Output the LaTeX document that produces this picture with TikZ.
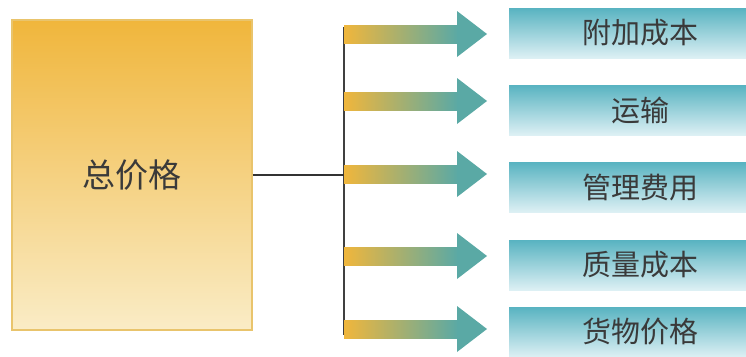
\documentclass[tikz,border=0pt]{standalone}
\usepackage{fontspec}
\newfontfamily\cjk{Noto Sans CJK SC}
\usetikzlibrary{positioning}
\definecolor{gold}{HTML}{F0B63C}
\definecolor{cream}{HTML}{FAECC6}
\definecolor{goldline}{HTML}{E9C46C}
\definecolor{tealtop}{HTML}{58B3C1}
\definecolor{tealbot}{HTML}{DDF0F4}
\definecolor{arrowteal}{HTML}{5AA9A5}
\definecolor{olive}{HTML}{A9AE7C}
\definecolor{textgray}{HTML}{3A3A3A}
\tikzset{
  totalbox/.style={rectangle, draw=goldline, line width=1.2pt, top color=gold, bottom color=cream,
    minimum width=240pt, minimum height=310pt, inner sep=0pt, text=textgray,
    font=\cjk\fontsize{33}{33}\selectfont},
  itembox/.style={rectangle, top color=tealtop, bottom color=tealbot,
    minimum width=262pt, minimum height=50pt, inner sep=0pt, text=textgray,
    font=\cjk\fontsize{29}{29}\selectfont},
  shaft/.style={left color=gold, middle color=olive, right color=arrowteal},
  head/.style={fill=arrowteal},
  bar/.style={draw=black!75, line width=2pt}
}
\begin{document}
\begin{tikzpicture}[x=1pt,y=-1pt]
\useasboundingbox (0,0) rectangle (746,356);
% nodes
\node [totalbox] (total) at (132,175) {总价格};

\node [itembox] (extra)   at (640,33)  {附加成本};
\node [itembox] (freight) at (640,110) {运输};
\node [itembox] (manage)  at (640,187) {管理费用};
\node [itembox] (quality) at (640,265) {质量成本};
\node [itembox] (goods)   at (640,332) {货物价格};

% bar
\coordinate (bartop) at (344,27);
\coordinate (barbot) at (344,335);
\draw [bar] (bartop) -- (barbot);
\draw [draw=black!80, line width=1.3pt] (total.east) -- (total.east -| bartop);

% arrows
\coordinate (s1) at (344,34);
\coordinate (s2) at (344,101);
\coordinate (s3) at (344,174);
\coordinate (s4) at (344,256);
\coordinate (s5) at (344,329);

\path [shaft] ([yshift=-9pt]s1) rectangle ([xshift=114pt,yshift=9pt]s1);
\path [shaft] ([yshift=-9pt]s2) rectangle ([xshift=114pt,yshift=9pt]s2);
\path [shaft] ([yshift=-9pt]s3) rectangle ([xshift=114pt,yshift=9pt]s3);
\path [shaft] ([yshift=-9pt]s4) rectangle ([xshift=114pt,yshift=9pt]s4);
\path [shaft] ([yshift=-9pt]s5) rectangle ([xshift=114pt,yshift=9pt]s5);

\fill [head] ([xshift=113pt,yshift=23pt]s1) -- ([xshift=143pt]s1) -- ([xshift=113pt,yshift=-23pt]s1) -- cycle;
\fill [head] ([xshift=113pt,yshift=23pt]s2) -- ([xshift=143pt]s2) -- ([xshift=113pt,yshift=-23pt]s2) -- cycle;
\fill [head] ([xshift=113pt,yshift=23pt]s3) -- ([xshift=143pt]s3) -- ([xshift=113pt,yshift=-23pt]s3) -- cycle;
\fill [head] ([xshift=113pt,yshift=23pt]s4) -- ([xshift=143pt]s4) -- ([xshift=113pt,yshift=-23pt]s4) -- cycle;
\fill [head] ([xshift=113pt,yshift=23pt]s5) -- ([xshift=143pt]s5) -- ([xshift=113pt,yshift=-23pt]s5) -- cycle;

\end{tikzpicture}
\end{document}
